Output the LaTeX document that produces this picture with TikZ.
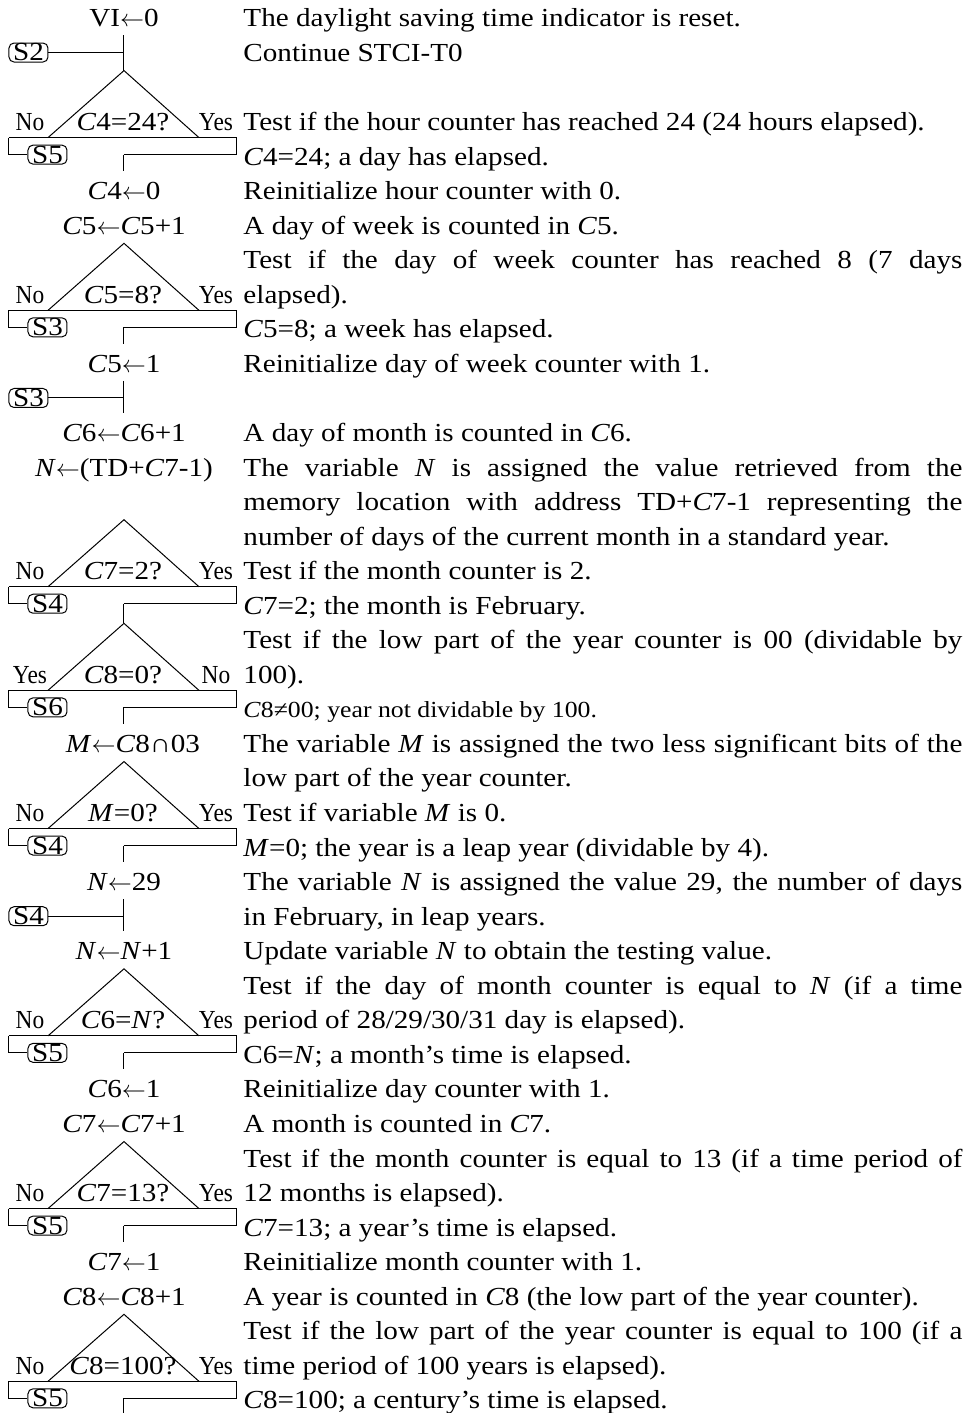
\documentclass[tikz,border=0pt]{standalone}
\usepackage{fontspec}
\setmainfont[FakeStretch=1.12]{Liberation Serif}
\newfontfamily\yesnofont[FakeStretch=0.9]{Liberation Serif}
\newcommand{\la}{$\leftarrow$}

\tikzset{
  stmt/.style={anchor=base, inner xsep=0pt, inner ysep=4pt, text height=10.04pt, text depth=0pt},
  test/.style={anchor=base, inner sep=0pt},
  lbl/.style={anchor=base, inner sep=0pt, font=\fontsize{13pt}{17.275pt}\selectfont\yesnofont},
  sbox/.style={draw, rounded corners=2.5pt, inner sep=0pt, minimum width=19.5pt, minimum height=9.5pt},
  notes/.style={anchor=base west, inner sep=0pt, text width=359.5pt, align=justify,
    execute at begin node={\tolerance=10000\hyphenpenalty=10000}}
}

% decision block: name, text line, left label, test, right label, exit box
\newcommand{\decision}[6]{%
  \coordinate (#1-top) at (124,#2-1.737);
  \coordinate (#1-bl) at (48,#2+0.203);
  \coordinate (#1-br) at (199,#2+0.203);
  \coordinate (#1-l) at (9,#2+0.203);
  \coordinate (#1-r) at (237,#2+0.203);
  \coordinate (#1-c) at (124,#2+0.695);
  \node[lbl] (#1-a) at (30,#2) {#3};
  \node[test] (#1-q) at (123,#2) {#4};
  \node[lbl] (#1-b) at (216,#2) {#5};
  \node[sbox] (#1-s) at (47.5,#2+0.695) {#6};
  \draw (#1-bl) -- (#1-top) -- (#1-br);
  \draw (#1-l) -- (#1-r);
  \draw (#1-l) |- (#1-s);
  \draw (#1-r) |- (#1-c);
}

\begin{document}
\begin{tikzpicture}[x=0.5pt, y=-17.275pt, line width=0.5pt, font=\fontsize{13pt}{17.275pt}\selectfont]
% x counts pixels, y counts text lines
\useasboundingbox (0,-0.78) rectangle (967,40.12);

% comments column
\node[notes] (notes) at (243,0) {%
The daylight saving time indicator is reset.\par
Continue STCI-T0\par
\mbox{}\par
Test if the hour counter has reached 24 (24 hours elapsed).\par
\textit{C}4=24; a day has elapsed.\par
Reinitialize hour counter with 0.\par
A day of week is counted in \textit{C}5.\par
Test if the day of week counter has reached 8 (7 days\linebreak elapsed).\par
\textit{C}5=8; a week has elapsed.\par
Reinitialize day of week counter with 1.\par
\mbox{}\par
A day of month is counted in \textit{C}6.\par
The variable \textit{N} is assigned the value retrieved from the\linebreak memory location with address TD+\textit{C}7-1 representing the\linebreak number of days of the current month in a standard year.\par
Test if the month counter is 2.\par
\textit{C}7=2; the month is February.\par
Test if the low part of the year counter is 00 (dividable by\linebreak 100).\par
{\fontsize{11.5pt}{17.275pt}\selectfont\textit{C}8≠00; year not dividable by 100.\par}
The variable \textit{M} is assigned the two less significant bits of the\linebreak low part of the year counter.\par
Test if variable \textit{M} is 0.\par
\textit{M}=0; the year is a leap year (dividable by 4).\par
The variable \textit{N} is assigned the value 29, the number of days\linebreak in February, in leap years.\par
Update variable \textit{N} to obtain the testing value.\par
Test if the day of month counter is equal to \textit{N} (if a time\linebreak period of 28/29/30/31 day is elapsed).\par
C6=\textit{N}; a month's time is elapsed.\par
Reinitialize day counter with 1.\par
A month is counted in \textit{C}7.\par
Test if the month counter is equal to 13 (if a time period of\linebreak 12 months is elapsed).\par
\textit{C}7=13; a year's time is elapsed.\par
Reinitialize month counter with 1.\par
A year is counted in \textit{C}8 (the low part of the year counter).\par
Test if the low part of the year counter is equal to 100 (if a\linebreak time period of 100 years is elapsed).\par
\textit{C}8=100; a century's time is elapsed.};

% statements
\node[stmt] (vi) at (124,0) {VI\la0};
\node[stmt] (c4r) at (124,5) {\textit{C}4\la0};
\node[stmt] (c5i) at (124,6) {\textit{C}5\la\textit{C}5+1};
\node[stmt] (c5r) at (124,10) {\textit{C}5\la1};
\node[stmt] (c6i) at (124,12) {\textit{C}6\la\textit{C}6+1};
\node[stmt] (nrd) at (124,13) {\textit{N}\la(TD+\textit{C}7-1)};
\node[stmt] (mset) at (133,21) {\textit{M}\la\textit{C}8∩03};
\node[stmt] (n29) at (124,25) {\textit{N}\la29};
\node[stmt] (ninc) at (124,27) {\textit{N}\la\textit{N}+1};
\node[stmt] (c6r) at (124,31) {\textit{C}6\la1};
\node[stmt] (c7i) at (124,32) {\textit{C}7\la\textit{C}7+1};
\node[stmt] (c7r) at (124,36) {\textit{C}7\la1};
\node[stmt] (c8i) at (124,37) {\textit{C}8\la\textit{C}8+1};

% tests
\decision{d1}{3}{No}{\textit{C}4=24?}{Yes}{S5}
\decision{d2}{8}{No}{\textit{C}5=8?}{Yes}{S3}
\decision{d3}{16}{No}{\textit{C}7=2?}{Yes}{S4}
\decision{d4}{19}{Yes}{\textit{C}8=0?}{No}{S6}
\decision{d5}{23}{No}{\textit{M}=0?}{Yes}{S4}
\decision{d6}{29}{No}{\textit{C}6=\textit{N}?}{Yes}{S5}
\decision{d7}{34}{No}{\textit{C}7=13?}{Yes}{S5}
\decision{d8}{39}{No}{\textit{C}8=100?}{Yes}{S5}

% joins
\node[sbox] (s2) at (28.5,0.74) {S2};
\draw (vi.south) -- (d1-top);
\draw (s2) -- (s2 -| vi);
\node[sbox] (s3) at (28.5,10.74) {S3};
\draw (c5r.south) -- (c6i.north);
\draw (s3) -- (s3 -| c5r);
\node[sbox] (s4) at (28.5,25.74) {S4};
\draw (n29.south) -- (ninc.north);
\draw (s4) -- (s4 -| n29);

% exits
\draw (d1-c) -- (c4r.north);
\draw (d2-c) -- (c5r.north);
\draw (d3-c) -- (d4-top);
\draw (d4-c) -- (d4-c |- mset.north);
\draw (d5-c) -- (n29.north);
\draw (d6-c) -- (c6r.north);
\draw (d7-c) -- (c7r.north);
\coordinate (dend) at (124,40.4);
\draw (d8-c) -- (dend);
\end{tikzpicture}
\end{document}
